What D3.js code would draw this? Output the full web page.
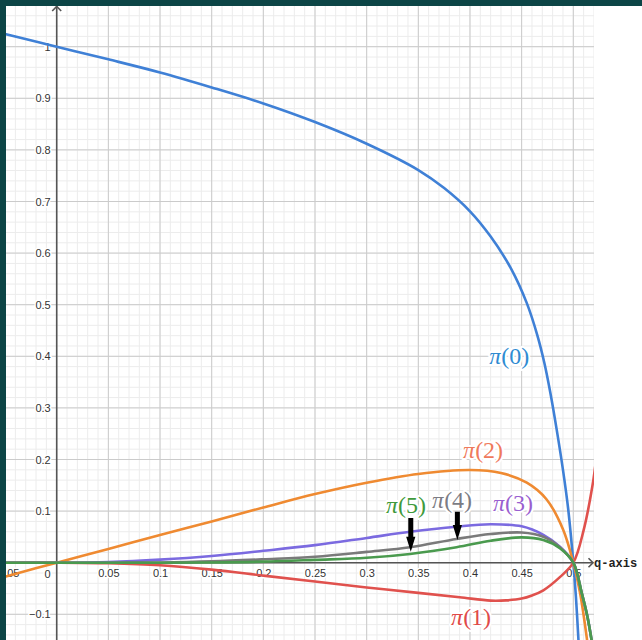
<!DOCTYPE html>
<html>
<head>
<meta charset="utf-8">
<script src="https://cdn.jsdelivr.net/npm/d3@7"></script>
<style>
  html, body { margin: 0; padding: 0; background: #fff; }
  svg { display: block; }
</style>
</head>
<body>
<svg id="chart" width="642" height="640"></svg>
<script>
// ---- sampled values of pi(n) against q ----
const pi0Q = [-0.05, 0, 0.05, 0.1, 0.15, 0.2, 0.25, 0.3, 0.35, 0.375, 0.4, 0.42, 0.44, 0.455, 0.465, 0.472, 0.478, 0.484, 0.49, 0.495, 0.5, 0.5025, 0.505];
const pi0  = [1.0245, 1.0, 0.9755, 0.950, 0.921, 0.890, 0.854, 0.812, 0.761, 0.726, 0.681, 0.632, 0.569, 0.503, 0.442, 0.387, 0.327, 0.257, 0.18, 0.105, 0, -0.065, -0.15];

const pi1Q = [-0.05, 0, 0.05, 0.1, 0.15, 0.2, 0.25, 0.3, 0.35, 0.39, 0.42, 0.435, 0.45, 0.46, 0.471, 0.487, 0.5, 0.51, 0.5194, 0.522];
const pi1  = [0, 0, -0.0012, -0.005, -0.0135, -0.025, -0.0365, -0.048, -0.0585, -0.067, -0.0735, -0.073, -0.0695, -0.0635, -0.0535, -0.028, 0, 0.063, 0.16, 0.2];

const pi2Q = [-0.05, 0, 0.05, 0.1, 0.15, 0.2, 0.25, 0.3, 0.35, 0.4, 0.43, 0.455, 0.474, 0.49, 0.5, 0.5066, 0.514];
const pi2  = [-0.027, 0, 0.0265, 0.0537, 0.080, 0.107, 0.133, 0.155, 0.172, 0.1797, 0.174, 0.155, 0.123, 0.065, 0, -0.059, -0.16];

const tailQ = [-0.05, 0, 0.05, 0.1, 0.15, 0.2, 0.25, 0.3, 0.342, 0.387, 0.42, 0.45, 0.471, 0.487, 0.5, 0.5082, 0.5137, 0.5185];
const pi3   = [0, 0, 0.0015, 0.006, 0.013, 0.023, 0.034, 0.048, 0.060, 0.0698, 0.0744, 0.0705, 0.054, 0.031, 0, -0.059, -0.105, -0.16];
const pi4   = [0, 0, 0, 0.0005, 0.0026, 0.0066, 0.0115, 0.021, 0.030, 0.046, 0.0555, 0.0585, 0.0504, 0.030, 0, -0.059, -0.105, -0.16];
const pi5   = [0, 0, 0, 0, 0.0005, 0.002, 0.0055, 0.0095, 0.017, 0.030, 0.0427, 0.049, 0.044, 0.028, 0, -0.059, -0.105, -0.16];

// tick labels
const xTicks = [-0.05, 0.05, 0.1, 0.15, 0.2, 0.25, 0.3, 0.35, 0.4, 0.45, 0.5];
const yTicks = [-0.1, 0.1, 0.2, 0.3, 0.4, 0.5, 0.6, 0.7, 0.8, 0.9, 1];

// arrows marking pi(5) and pi(4): q, start value, end value
const arrowQ     = [0.3427, 0.3878];
const arrowFrom  = [0.0866, 0.0988];
const arrowTo    = [0.0213, 0.044];

// ---- drawing ----
const svg = d3.select("#chart");
const W = 642, H = 640;
const plotRight = 594, frame = 6;

const x = d3.scaleLinear().domain([0, 0.5]).range([56.7, 573.3]);
const y = d3.scaleLinear().domain([0, 1]).range([562.7, 46.7]);

svg.append("rect").attr("width", W).attr("height", H).attr("fill", "#fff");

svg.append("defs").append("clipPath").attr("id", "plot")
  .append("rect").attr("x", 0).attr("y", 0).attr("width", plotRight).attr("height", H);

const plot = svg.append("g").attr("clip-path", "url(#plot)");

const qMin = x.invert(0), qMax = x.invert(plotRight);
const vMin = y.invert(H), vMax = y.invert(0);

// minor grid
const minorX = d3.range(-6, 54).map(i => i / 100).filter(v => v >= qMin && v <= qMax);
const minorY = d3.range(-8, 56).map(i => i * 0.02).filter(v => v >= vMin && v <= vMax);
plot.append("g").selectAll("line").data(minorX).join("line")
  .attr("x1", d => x(d)).attr("x2", d => x(d)).attr("y1", 0).attr("y2", H)
  .attr("stroke", "#ececec").attr("stroke-width", 1);
plot.append("g").selectAll("line").data(minorY).join("line")
  .attr("y1", d => y(d)).attr("y2", d => y(d)).attr("x1", 0).attr("x2", plotRight)
  .attr("stroke", "#ececec").attr("stroke-width", 1);

// major grid
const majorX = d3.range(-1, 11).map(i => i * 0.05);
const majorY = d3.range(-2, 11).map(i => i / 10);
plot.append("g").selectAll("line").data(majorX).join("line")
  .attr("x1", d => x(d)).attr("x2", d => x(d)).attr("y1", 0).attr("y2", H)
  .attr("stroke", "#cbcbcb").attr("stroke-width", 1);
plot.append("g").selectAll("line").data(majorY).join("line")
  .attr("y1", d => y(d)).attr("y2", d => y(d)).attr("x1", 0).attr("x2", plotRight)
  .attr("stroke", "#cbcbcb").attr("stroke-width", 1);

// tick labels via d3 axes
const fmt = v => (v < 0 ? "\u2212" : "") + String(+Math.abs(v).toFixed(2));
const xAxis = plot.append("g").attr("transform", `translate(0,${y(0)})`)
  .call(d3.axisBottom(x).tickValues(xTicks).tickSize(0).tickPadding(7).tickFormat(fmt));
const yAxis = plot.append("g").attr("transform", `translate(${x(0)},0)`)
  .call(d3.axisLeft(y).tickValues(yTicks).tickSize(0).tickPadding(6).tickFormat(fmt));
[xAxis, yAxis].forEach(a => {
  a.select(".domain").remove();
  a.selectAll("text")
    .attr("font-family", "'Liberation Sans', Arial, sans-serif")
    .attr("font-size", 11)
    .attr("fill", "#333")
    .attr("stroke", "#fff").attr("stroke-width", 3)
    .attr("paint-order", "stroke");
});
plot.append("text").attr("x", x(0) - 6).attr("y", y(0) + 7).attr("dy", "0.71em")
  .attr("text-anchor", "end")
  .attr("font-family", "'Liberation Sans', Arial, sans-serif").attr("font-size", 11)
  .attr("fill", "#333").attr("stroke", "#fff").attr("stroke-width", 3)
  .attr("paint-order", "stroke").text("0");

// axis lines
plot.append("line").attr("x1", 0).attr("x2", plotRight - 1).attr("y1", y(0)).attr("y2", y(0))
  .attr("stroke", "#555").attr("stroke-width", 1.6);
plot.append("line").attr("x1", x(0)).attr("x2", x(0)).attr("y1", 0).attr("y2", H)
  .attr("stroke", "#555").attr("stroke-width", 1.6);
plot.append("path")
  .attr("d", `M${x(0) - 4.5},${frame + 5}L${x(0)},${frame + 0.5}L${x(0) + 4.5},${frame + 5}`)
  .attr("fill", "none").attr("stroke", "#555").attr("stroke-width", 1.6);

// curves
const line = d3.line().x(d => x(d[0])).y(d => y(d[1])).curve(d3.curveCatmullRom.alpha(0.5));
const series = [
  { q: pi0Q, v: pi0, color: "#3f80d6" },
  { q: pi1Q, v: pi1, color: "#e0514d" },
  { q: pi2Q, v: pi2, color: "#ef8a31" },
  { q: tailQ, v: pi3, color: "#7b6ae0" },
  { q: tailQ, v: pi4, color: "#7a7a7a" },
  { q: tailQ, v: pi5, color: "#4a9a4e" }
];
series.forEach(s => {
  plot.append("path")
    .datum(s.q.map((q, i) => [q, s.v[i]]))
    .attr("d", line)
    .attr("fill", "none")
    .attr("stroke", s.color)
    .attr("stroke-width", 2.6)
    .attr("stroke-linejoin", "round")
    .attr("stroke-linecap", "round");
});

// arrows
arrowQ.forEach((q, i) => {
  const ax = x(q), y0 = y(arrowFrom[i]), y1 = y(arrowTo[i]);
  const headLen = 15, headW = 4.6, shaftW = 2.5;
  svg.append("path")
    .attr("d", `M${ax - shaftW},${y0}L${ax + shaftW},${y0}L${ax + shaftW},${y1 - headLen}` +
               `L${ax + headW},${y1 - headLen}L${ax},${y1}L${ax - headW},${y1 - headLen}` +
               `L${ax - shaftW},${y1 - headLen}Z`)
    .attr("fill", "#000");
});

// curve labels
const labels = [
  { n: 0, q: 0.4379, v: 0.4006, color: "#2f8bd2" },
  { n: 2, q: 0.4127, v: 0.2184, color: "#ef7a5c" },
  { n: 3, q: 0.4417, v: 0.1157, color: "#9a5fd0" },
  { n: 4, q: 0.3827, v: 0.1215, color: "#7c7c84" },
  { n: 5, q: 0.3381, v: 0.1118, color: "#3f9a3c" },
  { n: 1, q: 0.4011, v: -0.1052, color: "#e04a48" }
];
labels.forEach(l => {
  const t = svg.append("text")
    .attr("x", x(l.q)).attr("y", y(l.v))
    .attr("text-anchor", "middle").attr("dominant-baseline", "central")
    .attr("font-family", "'Liberation Serif', 'Times New Roman', serif")
    .attr("font-size", 24)
    .attr("fill", l.color)
    .attr("stroke", "#fff").attr("stroke-width", 4).attr("stroke-linejoin", "round")
    .attr("paint-order", "stroke");
  t.append("tspan").attr("font-style", "italic").text("\u03c0");
  t.append("tspan").text(`(${l.n})`);
});

// x-axis arrow head and name
svg.append("path")
  .attr("d", `M${plotRight - 5.5},${y(0) - 4.5}L${plotRight - 1},${y(0)}L${plotRight - 5.5},${y(0) + 4.5}`)
  .attr("fill", "none").attr("stroke", "#555").attr("stroke-width", 1.6);
svg.append("text")
  .attr("x", plotRight).attr("y", y(0) + 4)
  .attr("font-family", "'Liberation Mono', 'Courier New', monospace")
  .attr("font-weight", "bold").attr("font-size", 12)
  .attr("fill", "#222").text("q-axis");

// frame
svg.append("rect").attr("x", 0).attr("y", 0).attr("width", W).attr("height", frame).attr("fill", "#0c4546");
svg.append("rect").attr("x", 0).attr("y", 0).attr("width", frame).attr("height", H).attr("fill", "#0c4546");
</script>
</body>
</html>
